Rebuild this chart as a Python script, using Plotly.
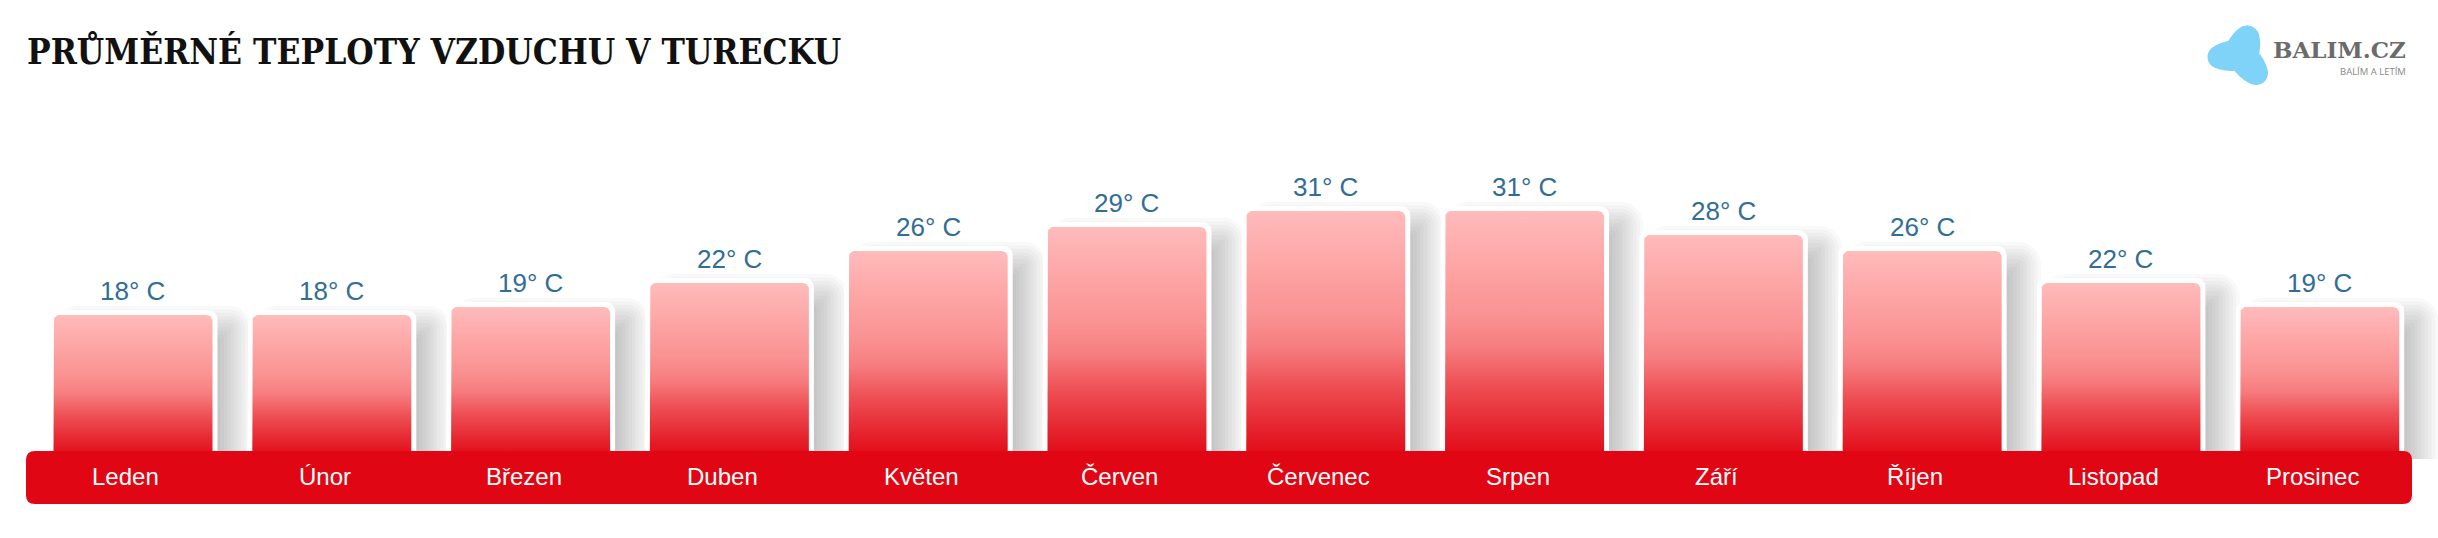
import math
import plotly.graph_objects as go

# ---------------- data ----------------
months = ["Leden", "Únor", "Březen", "Duben", "Květen", "Červen",
          "Červenec", "Srpen", "Září", "Říjen", "Listopad", "Prosinec"]
temps = [18, 18, 19, 22, 26, 29, 31, 31, 28, 26, 22, 19]
unit = "° C"
title_text = "PRŮMĚRNÉ TEPLOTY VZDUCHU V TURECKU"
logo_text = "BALIM.CZ"
logo_sub = "BALÍM A LETÍM"

# ---------------- geometry / style ----------------
W, H = 2438, 538
X0, X1 = -0.669, 11.595
Y0, Y1 = -9.875, 57.375
UX = W / (X1 - X0)   # px per category unit
UY = H / (Y1 - Y0)   # px per degree

RED = "#e10613"
LABEL_BLUE = "#326d94"

grad = [
    [0.00, "rgb(225,6,19)"],
    [0.12, "rgb(229,35,45)"],
    [0.30, "rgb(238,80,85)"],
    [0.45, "rgb(246,125,127)"],
    [0.58, "rgb(250,146,146)"],
    [0.78, "rgb(253,165,165)"],
    [1.00, "rgb(255,187,187)"],
]


def top_rounded(i, v, half_px, pad_px, r_px, dx_px=0.0, dy_px=0.0):
    xc = i + dx_px / UX
    hw = half_px / UX
    top = v + (pad_px - dy_px) / UY
    rx, ry = r_px / UX, r_px / UY
    xs, ys = [xc - hw], [0]
    if r_px > 0:
        cx, cy = xc - hw + rx, top - ry
        for k in range(9):
            t = math.pi - (math.pi / 2) * k / 8
            xs.append(cx + rx * math.cos(t)); ys.append(cy + ry * math.sin(t))
        cx = xc + hw - rx
        for k in range(9):
            t = math.pi / 2 - (math.pi / 2) * k / 8
            xs.append(cx + rx * math.cos(t)); ys.append(cy + ry * math.sin(t))
    else:
        xs += [xc - hw, xc + hw]; ys += [top, top]
    xs.append(xc + hw); ys.append(0)
    xs.append(xc - hw); ys.append(0)
    return xs, ys


fig = go.Figure()

# soft shadows (stacked translucent layers)
n_layers = 10
for k in range(n_layers):
    e = -12 + 3.5 * k
    X, Y = [], []
    for i, v in enumerate(temps):
        xs, ys = top_rounded(i, v, 79.5 + e, e, max(e, 0) + 4, dx_px=20, dy_px=10)
        X += xs + [None]; Y += ys + [None]
    fig.add_trace(go.Scatter(x=X, y=Y, mode="lines", fill="toself",
                             fillcolor="rgba(0,0,0,0.025)", line=dict(width=0),
                             hoverinfo="skip", showlegend=False))

# white frames
X, Y = [], []
for i, v in enumerate(temps):
    xs, ys = top_rounded(i, v, 84.5, 5, 9)
    X += xs + [None]; Y += ys + [None]
fig.add_trace(go.Scatter(x=X, y=Y, mode="lines", fill="toself", fillcolor="white",
                         line=dict(width=0), hoverinfo="skip", showlegend=False))

# gradient bars
for i, v in enumerate(temps):
    xs, ys = top_rounded(i, v, 79.5, 0, 6)
    fig.add_trace(go.Scatter(x=xs, y=ys, mode="lines", fill="toself",
                             fillgradient=dict(type="vertical", colorscale=grad),
                             line=dict(width=0), hoverinfo="skip", showlegend=False))

# value labels
for i, v in enumerate(temps):
    fig.add_annotation(x=i, y=v, xref="x", yref="y", text=f"{v}{unit}",
                       showarrow=False, yanchor="bottom", yshift=7,
                       font=dict(family="Liberation Sans, Arial, sans-serif",
                                 size=26, color=LABEL_BLUE))


def PX(px):
    return px / W


def PY(py):
    return 1 - py / H


# month labels inside the red band
for i, m in enumerate(months):
    fig.add_annotation(x=i, y=PY(476), xref="x", yref="paper", text=m,
                       showarrow=False, yanchor="middle", xshift=-7,
                       font=dict(family="Liberation Sans, Arial, sans-serif",
                                 size=24, color="white"))

# red band (rounded rectangle)
l, rr, t, b, r = 26, 2412, 451, 504, 9
band = (f"M {PX(l+r)},{PY(t)} L {PX(rr-r)},{PY(t)} Q {PX(rr)},{PY(t)} {PX(rr)},{PY(t+r)} "
        f"L {PX(rr)},{PY(b-r)} Q {PX(rr)},{PY(b)} {PX(rr-r)},{PY(b)} "
        f"L {PX(l+r)},{PY(b)} Q {PX(l)},{PY(b)} {PX(l)},{PY(b-r)} "
        f"L {PX(l)},{PY(t+r)} Q {PX(l)},{PY(t)} {PX(l+r)},{PY(t)} Z")
fig.add_shape(type="path", path=band, xref="paper", yref="paper",
              fillcolor=RED, line=dict(width=0), layer="above")

# logo blob: hull of three circles with slightly concave sides
circles = [(2247, 38, 12.5), (2256, 73, 12), (2219, 57, 11.5)]
pts = []
for cx, cy, cr in circles:
    for k in range(72):
        a = 2 * math.pi * k / 72
        pts.append((cx + cr * math.cos(a), cy + cr * math.sin(a)))
pts = sorted(set(pts))


def cross(o, a, b_):
    return (a[0] - o[0]) * (b_[1] - o[1]) - (a[1] - o[1]) * (b_[0] - o[0])


lower, upper = [], []
for p in pts:
    while len(lower) >= 2 and cross(lower[-2], lower[-1], p) <= 0:
        lower.pop()
    lower.append(p)
for p in reversed(pts):
    while len(upper) >= 2 and cross(upper[-2], upper[-1], p) <= 0:
        upper.pop()
    upper.append(p)
hull = lower[:-1] + upper[:-1]
gx = sum(c[0] for c in circles) / 3
gy = sum(c[1] for c in circles) / 3
dense = []
for j in range(len(hull)):
    p, q = hull[j], hull[(j + 1) % len(hull)]
    seg = max(1, int(math.hypot(q[0] - p[0], q[1] - p[1]) / 1.5))
    for s in range(seg):
        dense.append((p[0] + (q[0] - p[0]) * s / seg, p[1] + (q[1] - p[1]) * s / seg))
blob = []
for (px_, py_) in dense:
    d = min(math.hypot(px_ - cx, py_ - cy) - cr for cx, cy, cr in circles)
    d = max(d, 0)
    vx, vy = gx - px_, gy - py_
    n = math.hypot(vx, vy)
    blob.append((px_ + vx / n * d * 0.45, py_ + vy / n * d * 0.45))
bpath = "M " + " L ".join(f"{PX(a)},{PY(c)}" for a, c in blob) + " Z"
fig.add_shape(type="path", path=bpath, xref="paper", yref="paper",
              fillcolor="#7fd3f8", line=dict(width=0), layer="above")

fig.add_annotation(x=PX(2408), y=PY(49), xref="paper", yref="paper", text=logo_text,
                   showarrow=False, xanchor="right", yanchor="middle",
                   font=dict(family="DejaVu Serif", size=23, color="#6b6b6b", weight="bold"))
fig.add_annotation(x=PX(2408), y=PY(71), xref="paper", yref="paper", text=logo_sub,
                   showarrow=False, xanchor="right", yanchor="middle",
                   font=dict(family="Open Sans, sans-serif", size=9.5, color="#888888"))

fig.update_layout(
    width=W, height=H, autosize=False,
    margin=dict(l=0, r=0, t=0, b=0, pad=0),
    paper_bgcolor="white", plot_bgcolor="white",
    showlegend=False,
    title=dict(text=title_text, x=PX(27), xanchor="left", xref="paper",
               y=PY(52), yanchor="middle", yref="paper",
               font=dict(family="DejaVu Serif Condensed, DejaVu Serif, serif",
                         size=35, color="#111111", weight="bold")),
    xaxis=dict(range=[X0, X1], visible=False, fixedrange=True),
    yaxis=dict(range=[Y0, Y1], visible=False, fixedrange=True),
)

fig.write_html("out.html", config={"displayModeBar": False},
               post_script="document.body.style.margin='0';document.body.style.overflow='hidden';")
